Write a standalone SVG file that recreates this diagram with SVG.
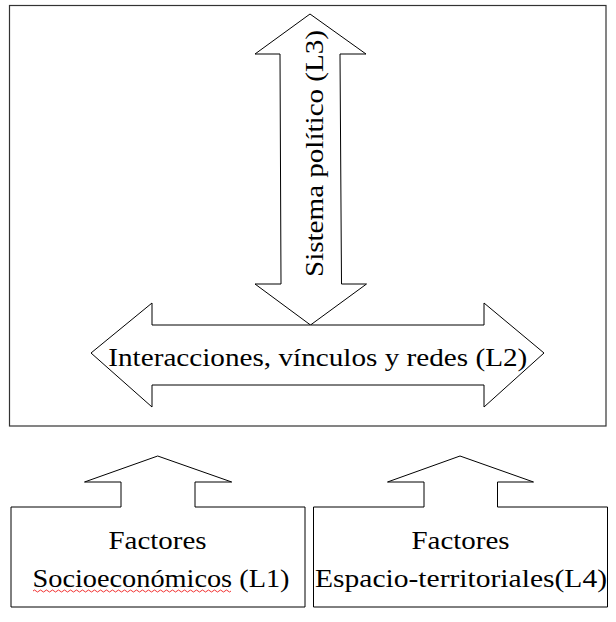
<svg xmlns="http://www.w3.org/2000/svg" width="616" height="622" viewBox="0 0 616 622">
<style>
.shape{fill:#fff;stroke:#000;stroke-width:1}
.frame{fill:none;stroke:#333;stroke-width:1.2}
text{font-family:"Liberation Serif","DejaVu Serif",serif;font-size:25px;fill:#000}
</style>
<rect width="616" height="622" fill="#fff"/>
<g id="frame"><rect class="frame" x="9.5" y="5.5" width="596.5" height="420.5"/></g>
<g id="connectors">
<g id="vertical-arrow">
<polygon class="shape" points="310,14 366,54 340,54 341.5,284 366.5,284 310.5,325 255,284 281,284 280,54 255,54"/>
<text x="0" y="0" transform="translate(323,153.5) rotate(-90)" text-anchor="middle" textLength="247" lengthAdjust="spacingAndGlyphs">Sistema político (L3)</text>
</g>
<g id="horizontal-arrow">
<polygon class="shape" points="91,353 152,303 152,325 484,325 484,303 544,353 484,407 484,385 152,385 152,407"/>
<text x="317.8" y="366" text-anchor="middle" textLength="419" lengthAdjust="spacingAndGlyphs">Interacciones, vínculos y redes (L2)</text>
</g>
</g>
<g id="node-l1">
<polygon class="shape" points="11,507 121,507 121,482 84.5,482 157.7,456 231.7,482 195,482 195,507 305,507 305,607 11,607"/>
<text x="157.5" y="549" text-anchor="middle" textLength="98" lengthAdjust="spacingAndGlyphs">Factores</text>
<text x="161" y="587" text-anchor="middle" textLength="257" lengthAdjust="spacingAndGlyphs">Socioeconómicos (L1)</text>
<path d="M33,591 q1.5,-2 3,0 t3,0 t3,0 t3,0 t3,0 t3,0 t3,0 t3,0 t3,0 t3,0 t3,0 t3,0 t3,0 t3,0 t3,0 t3,0 t3,0 t3,0 t3,0 t3,0 t3,0 t3,0 t3,0 t3,0 t3,0 t3,0 t3,0 t3,0 t3,0 t3,0 t3,0 t3,0 t3,0 t3,0 t3,0 t3,0 t3,0 t3,0 t3,0 t3,0 t3,0 t3,0 t3,0 t3,0 t3,0 t3,0 t3,0 t3,0 t3,0 t3,0 t3,0 t3,0 t3,0 t3,0 t3,0 t3,0 t3,0 t3,0 t3,0 t3,0 t3,0 t3,0 t3,0 t3,0 t3,0 t3,0" fill="none" stroke="#e00" stroke-width="0.8"/>
</g>
<g id="node-l4">
<polygon class="shape" points="313.5,507 424,507 424,482 387.5,482 460,456 533.5,482 497.5,482 497.5,507 607.5,507 607.5,607 313.5,607"/>
<text x="460.5" y="549" text-anchor="middle" textLength="98" lengthAdjust="spacingAndGlyphs">Factores</text>
<text x="461" y="587" text-anchor="middle" textLength="292" lengthAdjust="spacingAndGlyphs">Espacio-territoriales(L4)</text>
</g>
</svg>
